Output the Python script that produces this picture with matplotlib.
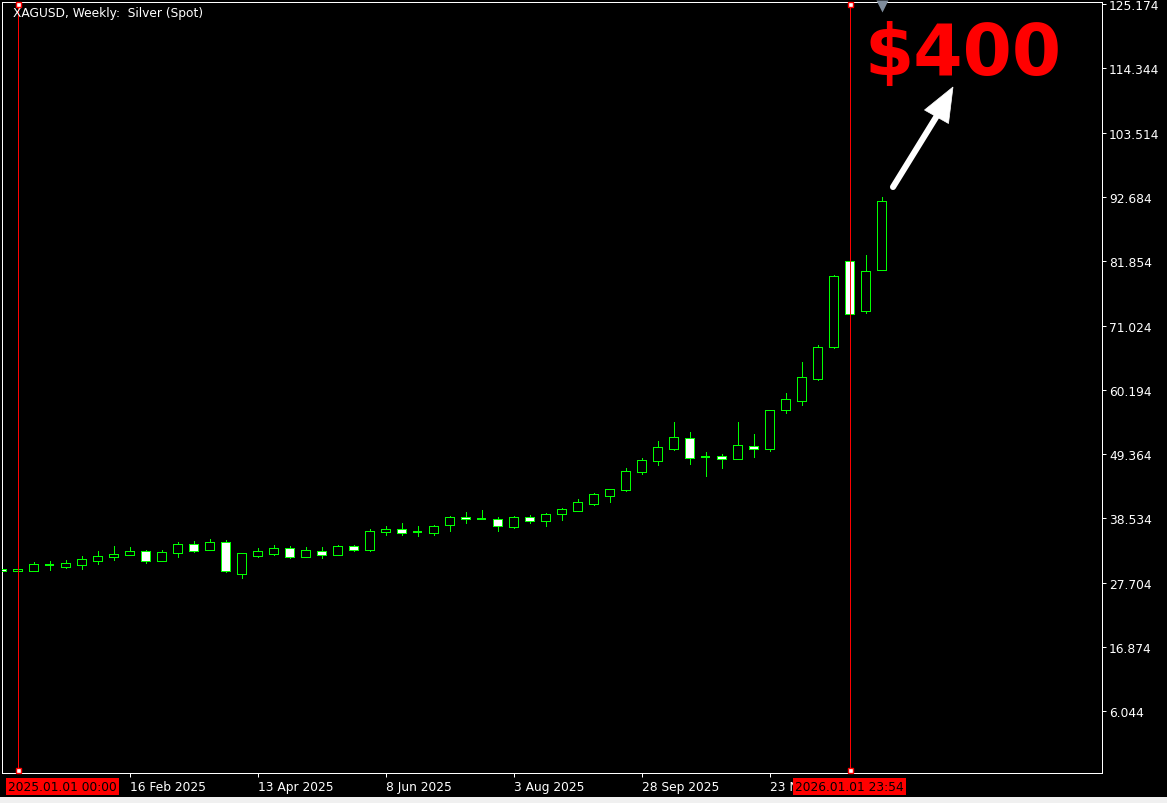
import numpy as np
import matplotlib
matplotlib.use("Agg")
import matplotlib.pyplot as plt
import matplotlib.dates as mdates
from matplotlib.lines import Line2D
from matplotlib.patches import Polygon, Rectangle
import pandas as pd

# ---------------- data ----------------
week_start = "2024-12-22"
opens = [29.98, 29.65, 29.70, 30.71, 30.37, 30.71, 31.38, 31.96, 32.29, 32.97,
         31.38, 32.73, 34.15, 33.24, 34.54, 29.19, 32.23, 32.57, 33.48, 32.06,
         32.97, 32.40, 33.81, 33.14, 36.18, 36.68, 36.27, 36.11, 37.36, 38.71,
         38.47, 38.47, 37.13, 38.71, 38.14, 39.32, 39.82, 40.99, 42.36, 43.26,
         46.30, 48.16, 50.29, 52.04, 48.88, 49.00, 48.60, 50.69, 50.29, 56.87,
         58.39, 62.05, 67.33, 81.92, 73.41, 80.35]
highs = [30.05, 30.00, 31.16, 31.30, 31.50, 32.12, 33.02, 33.86, 33.69, 33.19,
         33.19, 34.54, 34.71, 35.05, 34.88, 32.65, 33.53, 34.03, 33.86, 33.65,
         33.65, 33.98, 33.98, 36.73, 37.24, 37.75, 37.24, 37.41, 38.88, 39.55,
         39.94, 38.76, 38.93, 39.04, 39.38, 40.23, 41.75, 42.76, 43.53, 47.03,
         48.67, 51.59, 54.79, 53.11, 49.73, 49.39, 54.79, 52.77, 56.85, 59.69,
         64.92, 67.74, 79.55, 82.00, 82.98, 92.59]
lows = [29.55, 29.60, 29.70, 29.86, 30.15, 30.03, 30.87, 31.55, 32.29, 31.05,
        31.38, 32.01, 32.90, 33.20, 29.53, 28.46, 32.01, 32.35, 31.89, 32.00,
        31.84, 32.38, 32.97, 33.10, 35.77, 35.77, 35.60, 35.77, 36.45, 37.80,
        38.40, 36.45, 36.95, 37.80, 37.30, 38.30, 39.80, 40.78, 41.34, 43.20,
        46.07, 47.59, 50.12, 47.76, 45.73, 47.08, 48.55, 48.88, 49.95, 56.31,
        57.66, 61.88, 67.30, 72.90, 73.07, 80.30]
closes = [29.65, 29.98, 30.83, 30.71, 30.94, 31.67, 32.12, 32.51, 33.02, 31.28,
          32.86, 34.20, 33.07, 34.54, 29.70, 32.63, 32.97, 33.48, 32.06, 33.14,
          32.40, 33.81, 33.14, 36.34, 36.68, 36.12, 36.27, 37.19, 38.71, 38.37,
          38.47, 37.19, 38.71, 38.14, 39.21, 40.06, 41.24, 42.59, 43.43, 46.47,
          48.33, 50.52, 52.21, 48.77, 48.88, 48.50, 50.86, 50.19, 56.77, 58.62,
          62.34, 67.40, 79.38, 72.97, 80.23, 92.04]

y_ticks = [6.044, 16.874, 27.704, 38.534, 49.364, 60.194, 71.024, 81.854,
           92.684, 103.514, 114.344, 125.174]
x_tick_dates = ["2025-02-16", "2025-04-13", "2025-06-08", "2025-08-03",
                "2025-09-28", "2025-11-23"]
x_tick_labels = ["16 Feb 2025", "13 Apr 2025", "8 Jun 2025", "3 Aug 2025",
                 "28 Sep 2025", "23 Nov 2025"]
vline_dates = ["2024-12-29", "2025-12-28"]
vline_labels = ["2025.01.01 00:00", "2026.01.01 23:54"]
title_text = "XAGUSD, Weekly:  Silver (Spot)"
target_text = "$400"

# ---------------- styling ----------------
W, H, DPI = 1167, 804, 100
GREEN = "#00FF00"
FS = 8.8
PX = 72 / DPI  # one pixel in points

dates = pd.date_range(week_start, periods=len(opens), freq="7D")
x = mdates.date2num(dates)
o, h, l, c = map(np.asarray, (opens, highs, lows, closes))

fig = plt.figure(figsize=(W / DPI, H / DPI), dpi=DPI, facecolor="black")
ax = fig.add_axes([2 / W, (H - 774) / H, 1100 / W, 771.5 / H], facecolor="black")

px_per_day = 16 / 7
body_w = 4.1

ax.vlines(x, l, h, color=GREEN, lw=PX, zorder=2, antialiased=False)
up = c > o
dn = c < o
dj = c == o
ax.bar(x[up], (c - o)[up], bottom=o[up], width=body_w, facecolor="black",
       edgecolor=GREEN, lw=PX, zorder=3, antialiased=False)
ax.bar(x[dn], (o - c)[dn], bottom=c[dn], width=body_w, facecolor="white",
       edgecolor=GREEN, lw=PX, zorder=3, antialiased=False)
ax.hlines(o[dj], x[dj] - body_w / 2, x[dj] + body_w / 2, color=GREEN, lw=2 * PX,
          zorder=3, antialiased=False)

x_left = x[0] + 0.14
ax.set_xlim(x_left, x_left + 1100 / px_per_day)
ax.set_ylim(-4.35, 125.6)

# axes / ticks
for s in ax.spines.values():
    s.set_color("white")
    s.set_linewidth(PX)
    s.set_antialiased(False)
ax.yaxis.tick_right()
ax.set_yticks(y_ticks)
ax.set_yticklabels([f"{v:.3f}" for v in y_ticks])
ax.set_xticks(mdates.date2num(pd.to_datetime(x_tick_dates)))
ax.set_xticklabels(x_tick_labels)
for lab in ax.get_xticklabels():
    lab.set_horizontalalignment("left")
ax.tick_params(axis="both", colors="white", labelcolor="white", labelsize=FS,
               direction="out", length=3, width=PX)
ax.tick_params(axis="y", pad=2)
ax.tick_params(axis="x", pad=2)

# vertical event lines
xt = ax.get_xaxis_transform()
for i, (vd, vl) in enumerate(zip(vline_dates, vline_labels)):
    xv = mdates.date2num(pd.Timestamp(vd))
    ax.axvline(xv, color="#FF0000", lw=PX, zorder=4, antialiased=False)
    for yf in (0.9968, 0.0039):
        ax.plot([xv], [yf], marker="s", ms=3.6, mfc="white", mec="#FF0000", mew=1.0,
                transform=xt, clip_on=False, zorder=5)
    box = dict(boxstyle="square,pad=0.2", fc="#FF0000", ec="none")
    if i == 0:
        ax.text(6 / 1100, -13.5 / 771.5, vl, transform=ax.transAxes, ha="left",
                va="center", fontsize=FS, color="black", zorder=10, clip_on=False,
                bbox=box)
    else:
        ax.annotate(vl, xy=(xv, 0), xycoords=xt, xytext=(0, -13.5 * PX),
                    textcoords="offset points", ha="center", va="center",
                    fontsize=FS, color="black", zorder=10, annotation_clip=False,
                    bbox=box)

# title
ax.text(11 / 1100, (774 - 13) / 771.5, title_text, transform=ax.transAxes,
        ha="left", va="center", fontsize=FS, color="white", zorder=10)

# chart shift marker
ax.plot([x[-1]], [(774 - 6.5) / 771.5], marker="v", ms=9, color="#7f8c9c",
        mec="none", transform=xt, clip_on=False, zorder=6)

# arrow + target text (figure pixel coordinates)
def fp(px, py):
    return px / W, 1 - py / H

tail = fp(893, 188)
base = fp(936.5, 117.5)
fig.add_artist(Line2D([tail[0], base[0]], [tail[1], base[1]], color="white",
                      lw=4.4, solid_capstyle="round", transform=fig.transFigure,
                      zorder=20))
fig.add_artist(Polygon([fp(953, 88), fp(924.5, 111), fp(948.5, 124.5)], closed=True,
                       fc="white", ec="white", lw=0.5, transform=fig.transFigure,
                       zorder=21))
tx, ty = fp(865, 75)
fig.text(tx, ty, target_text, fontsize=51, fontweight="bold", color="#FF0000",
         family="DejaVu Sans", ha="left", va="baseline", zorder=22)

# bottom light strip
fig.add_artist(Rectangle((0, 0), 1, 6 / H, transform=fig.transFigure,
                         fc="#F0F0F0", ec="none", zorder=30))

fig.savefig("out.png", dpi=DPI, facecolor="black")
